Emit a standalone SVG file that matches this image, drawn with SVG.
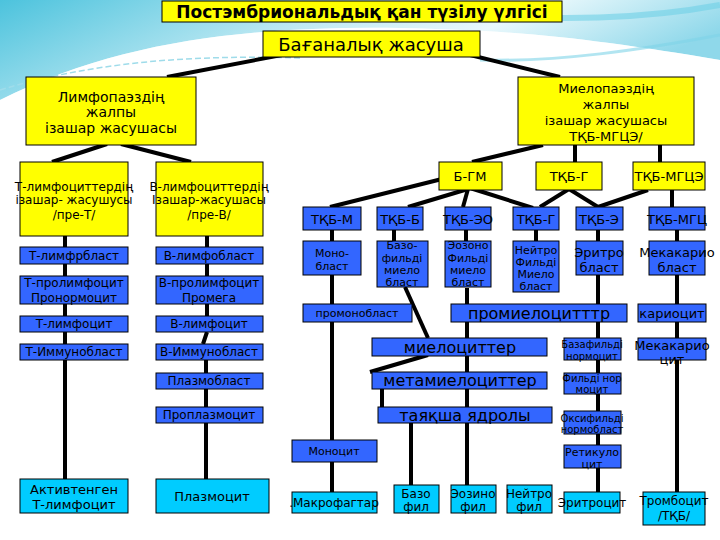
<svg xmlns="http://www.w3.org/2000/svg" width="720" height="540" viewBox="0 0 720 540">
<defs>
<linearGradient id="bg" x1="0" y1="0" x2="1" y2="0.3">
<stop offset="0" stop-color="#4cc3dd"/>
<stop offset="0.45" stop-color="#bfe9f3"/>
<stop offset="0.7" stop-color="#e9f8fc"/>
<stop offset="1" stop-color="#8fd8ea"/>
</linearGradient>
<style>
.y{fill:#ffff00;stroke:#000;stroke-width:1}
.b{fill:#3366ff;stroke:#000;stroke-width:1}
.c{fill:#00ccff;stroke:#000;stroke-width:1}
text{font-family:"DejaVu Sans","Liberation Sans",sans-serif;fill:#000;text-anchor:middle;dominant-baseline:central}
.ln{stroke:#000;stroke-width:4;fill:none}
.f10{font-size:10px}.f11{font-size:11px}.f12{font-size:12px}.f13{font-size:13px}.f14{font-size:14px}.f16{font-size:16px}
</style>
</defs>
<rect width="720" height="540" fill="#ffffff"/>
<path d="M0,0 H720 V60 C600,40 520,30 400,28 C250,26 120,40 0,100 Z" fill="url(#bg)"/>
<path d="M0,100 C120,40 250,26 400,28 C520,30 600,40 720,60 V72 C600,52 520,42 400,40 C250,38 120,52 0,112 Z" fill="#ffffff" opacity="0.6"/>
<path d="M0,90 C100,60 200,55 300,58" stroke="#9fdcea" stroke-width="1.5" stroke-dasharray="6,3" fill="none"/>
<path d="M470,15 C560,20 640,20 720,5" stroke="#6fd0e6" stroke-width="6" fill="none" opacity="0.6"/>
<path d="M480,60 C560,62 640,50 720,35" stroke="#7fd4e8" stroke-width="3" fill="none" opacity="0.6"/>

<g id="connectors">
<line class="ln" x1="287" y1="54" x2="167" y2="77"/>
<line class="ln" x1="466" y1="54" x2="560" y2="77"/>
<line class="ln" x1="107" y1="144" x2="52" y2="162"/>
<line class="ln" x1="121" y1="144" x2="191" y2="162"/>
<line class="ln" x1="65" y1="236" x2="65" y2="479"/>
<line class="ln" x1="207" y1="236" x2="207" y2="332"/>
<line class="ln" x1="207" y1="332" x2="203" y2="344"/>
<line class="ln" x1="206" y1="344" x2="206" y2="479"/>
<line class="ln" x1="543" y1="145" x2="472" y2="162"/>
<line class="ln" x1="575" y1="145" x2="575" y2="162"/>
<line class="ln" x1="660" y1="145" x2="660" y2="162"/>
<line class="ln" x1="442" y1="179" x2="330" y2="207"/>
<line class="ln" x1="468" y1="189" x2="408" y2="207"/>
<line class="ln" x1="468" y1="189" x2="463" y2="207"/>
<line class="ln" x1="470" y1="188" x2="533" y2="208"/>
<line class="ln" x1="569" y1="189" x2="540" y2="207"/>
<line class="ln" x1="569" y1="189" x2="598" y2="207"/>
<line class="ln" x1="648" y1="190" x2="598" y2="207"/>
<line class="ln" x1="672" y1="190" x2="672" y2="207"/>
<line class="ln" x1="332" y1="230" x2="332" y2="492"/>
<line class="ln" x1="394" y1="230" x2="394" y2="241"/>
<line class="ln" x1="466" y1="230" x2="466" y2="241"/>
<line class="ln" x1="536" y1="230" x2="536" y2="241"/>
<line class="ln" x1="598" y1="230" x2="598" y2="492"/>
<line class="ln" x1="677" y1="230" x2="677" y2="496"/>
<line class="ln" x1="405" y1="287" x2="428" y2="338"/>
<line class="ln" x1="428" y1="355" x2="370" y2="372"/>
<line class="ln" x1="382" y1="389" x2="382" y2="407"/>
<line class="ln" x1="411" y1="423" x2="411" y2="485"/>
<line class="ln" x1="467" y1="288" x2="467" y2="485"/>
</g>

<g id="title"><rect class="y" x="162" y="1" width="400" height="21"/><text x="362" y="12" style="font-size:17px;font-weight:bold">Постэмбриональдық қан түзілу үлгісі</text></g>
<g id="stem"><rect class="y" x="263" y="31" width="217" height="26"/><text x="371" y="44" style="font-size:18px">Бағаналық жасуша</text></g>
<g id="lymph"><rect class="y" x="26" y="77" width="170" height="68"/><text class="f14" x="111" y="97">Лимфопаэздің</text><text class="f14" x="111" y="112">жалпы</text><text class="f14" x="111" y="128">ізашар жасушасы</text></g>
<g id="myelo"><rect class="y" x="518" y="77" width="176" height="68"/><text class="f13" x="606" y="88">Миелопаэздің</text><text class="f13" x="606" y="104">жалпы</text><text class="f13" x="606" y="120">ізашар жасушасы</text><text class="f13" x="606" y="136">ТҚБ-МГЦЭ/</text></g>

<g id="preT"><rect class="y" x="20" y="162" width="108" height="74"/><text class="f12" x="74" y="187">Т-лимфоциттердің</text><text class="f12" x="74" y="200">ізашар- жасушусы</text><text class="f12" x="74" y="215">/пре-Т/</text></g>
<g id="preB"><rect class="y" x="156" y="162" width="107" height="74"/><text class="f12" x="209" y="187">В-лимфоциттердің</text><text class="f12" x="209" y="200">Ізашар-жасушасы</text><text class="f12" x="209" y="215">/пре-В/</text></g>

<g id="tlb"><rect class="b" x="20" y="247" width="108" height="17"/><text class="f12" x="74" y="256">Т-лимфрбласт</text></g>
<g id="tpl"><rect class="b" x="20" y="276" width="108" height="28"/><text class="f12" x="74" y="283">Т-пролимфоцит</text><text class="f12" x="74" y="298">Пронормоцит</text></g>
<g id="tl"><rect class="b" x="20" y="316" width="108" height="16"/><text class="f12" x="74" y="324">Т-лимфоцит</text></g>
<g id="tib"><rect class="b" x="20" y="344" width="108" height="16"/><text class="f12" x="74" y="352">Т-Иммунобласт</text></g>
<g id="tact"><rect class="c" x="20" y="479" width="108" height="34"/><text class="f13" x="74" y="489">Активтенген</text><text class="f13" x="74" y="504">Т-лимфоцит</text></g>

<g id="blb"><rect class="b" x="156" y="247" width="107" height="17"/><text class="f12" x="209" y="256">В-лимфобласт</text></g>
<g id="bpl"><rect class="b" x="156" y="276" width="107" height="28"/><text class="f12" x="209" y="283">В-пролимфоцит</text><text class="f12" x="209" y="298">Промега</text></g>
<g id="bl"><rect class="b" x="156" y="316" width="107" height="16"/><text class="f12" x="209" y="324">В-лимфоцит</text></g>
<g id="bib"><rect class="b" x="156" y="344" width="107" height="16"/><text class="f12" x="209" y="352">В-Иммунобласт</text></g>
<g id="pb"><rect class="b" x="156" y="373" width="107" height="16"/><text class="f12" x="209" y="381">Плазмобласт</text></g>
<g id="ppc"><rect class="b" x="156" y="407" width="107" height="16"/><text class="f12" x="209" y="415">Проплазмоцит</text></g>
<g id="pc"><rect class="c" x="156" y="479" width="113" height="34"/><text class="f13" x="212" y="496">Плазмоцит</text></g>

<g id="bgm"><rect class="y" x="439" y="162" width="63" height="28"/><text class="f13" x="470" y="176">Б-ГМ</text></g>
<g id="tkbg_y"><rect class="y" x="536" y="162" width="66" height="28"/><text class="f13" x="569" y="176">ТҚБ-Г</text></g>
<g id="tkbmgce"><rect class="y" x="633" y="162" width="72" height="28"/><text class="f13" x="669" y="176">ТҚБ-МГЦЭ</text></g>

<g id="tkbm"><rect class="b" x="303" y="207" width="58" height="23"/><text class="f13" x="332" y="219">ТҚБ-М</text></g>
<g id="tkbb"><rect class="b" x="377" y="207" width="46" height="23"/><text class="f13" x="400" y="219">ТҚБ-Б</text></g>
<g id="tkbeo"><rect class="b" x="445" y="207" width="46" height="23"/><text class="f13" x="468" y="219">ТҚБ-ЭО</text></g>
<g id="tkbg"><rect class="b" x="513" y="207" width="46" height="23"/><text class="f13" x="536" y="219">ТҚБ-Г</text></g>
<g id="tkbe"><rect class="b" x="576" y="207" width="47" height="23"/><text class="f13" x="599" y="219">ТҚБ-Э</text></g>
<g id="tkbmgc"><rect class="b" x="649" y="207" width="56" height="23"/><text class="f13" x="677" y="219">ТҚБ-МГЦ</text></g>

<g id="monob"><rect class="b" x="303" y="241" width="58" height="34"/><text class="f11" x="332" y="253">Моно-</text><text class="f11" x="332" y="266">бласт</text></g>
<g id="basob"><rect class="b" x="377" y="241" width="51" height="46"/><text class="f11" x="402" y="245">Базо-</text><text class="f11" x="402" y="258">фильді</text><text class="f11" x="402" y="270">миело</text><text class="f11" x="402" y="282">бласт</text></g>
<g id="eob"><rect class="b" x="445" y="241" width="46" height="46"/><text class="f11" x="468" y="245">Эозоно</text><text class="f11" x="468" y="258">Фильді</text><text class="f11" x="468" y="270">миело</text><text class="f11" x="468" y="282">бласт</text></g>
<g id="neb"><rect class="b" x="513" y="241" width="46" height="51"/><text class="f11" x="536" y="250">Нейтро</text><text class="f11" x="536" y="262">Фильді</text><text class="f11" x="536" y="274">Миело</text><text class="f11" x="536" y="286">бласт</text></g>
<g id="erb"><rect class="b" x="576" y="241" width="47" height="34"/><text class="f13" x="599" y="252">Эритро</text><text class="f13" x="599" y="267">бласт</text></g>
<g id="mkb"><rect class="b" x="649" y="241" width="56" height="34"/><text class="f13" x="677" y="252">Мекакарио</text><text class="f13" x="677" y="267">бласт</text></g>

<g id="promono"><rect class="b" x="303" y="304" width="109" height="18"/><text class="f11" x="357" y="313">промонобласт</text></g>
<g id="promyelo"><rect class="b" x="451" y="304" width="176" height="18"/><text class="f16" x="539" y="313">промиелоцитттр</text></g>
<g id="karyo"><rect class="b" x="638" y="304" width="68" height="18"/><text class="f13" x="672" y="313">кариоцит</text></g>
<g id="myelocyte"><rect class="b" x="372" y="338" width="175" height="18"/><text class="f16" x="460" y="347">миелоциттер</text></g>
<g id="metamyelo"><rect class="b" x="372" y="372" width="175" height="17"/><text class="f16" x="460" y="380">метамиелоциттер</text></g>
<g id="band"><rect class="b" x="378" y="407" width="174" height="16"/><text class="f16" x="465" y="415">таяқша ядролы</text></g>
<g id="basonorm"><rect class="b" x="564" y="338" width="57" height="22"/><text class="f10" x="592" y="344">Базафильді</text><text class="f10" x="592" y="356">нормоцит</text></g>
<g id="philnorm"><rect class="b" x="564" y="373" width="57" height="21"/><text class="f10" x="592" y="378">Фильді нор</text><text class="f10" x="592" y="389">моцит</text></g>
<g id="oxynorm"><rect class="b" x="564" y="411" width="57" height="23"/><text class="f10" x="592" y="418">Оксифильді</text><text class="f10" x="592" y="429">нормобласт</text></g>
<g id="mkc"><rect class="b" x="638" y="338" width="68" height="22"/><text class="f13" x="672" y="345">Мекакарио</text><text class="f13" x="672" y="359">цит</text></g>
<g id="retic"><rect class="b" x="564" y="445" width="57" height="23"/><text class="f11" x="592" y="452">Ретикуло</text><text class="f11" x="592" y="464">цит</text></g>
<g id="monocyte"><rect class="b" x="292" y="440" width="85" height="22"/><text class="f11" x="334" y="451">Моноцит</text></g>

<g id="macro"><rect class="c" x="292" y="492" width="85" height="21"/><text class="f12" x="334" y="503">.Макрофагтар</text></g>
<g id="baso"><rect class="c" x="394" y="485" width="45" height="28"/><text class="f12" x="416" y="494">Базо</text><text class="f12" x="416" y="507">фил</text></g>
<g id="eos"><rect class="c" x="451" y="485" width="45" height="28"/><text class="f12" x="473" y="494">Эозино</text><text class="f12" x="473" y="507">фил</text></g>
<g id="neut"><rect class="c" x="507" y="485" width="45" height="28"/><text class="f12" x="529" y="494">Нейтро</text><text class="f12" x="529" y="507">фил</text></g>
<g id="eryth"><rect class="c" x="564" y="492" width="56" height="21"/><text class="f12" x="592" y="503">Эритроцит</text></g>
<g id="thromb"><rect class="c" x="643" y="492" width="62" height="33"/><text class="f12" x="674" y="501">Тромбоцит</text><text class="f12" x="674" y="516">/ТҚБ/</text></g>
</svg>
